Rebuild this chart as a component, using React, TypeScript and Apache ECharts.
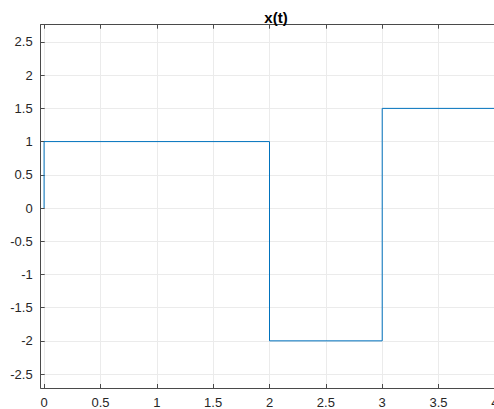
import React, { useEffect, useRef } from "react";
import * as echarts from "echarts";

const tValues = [0, 0, 2, 2, 3, 3, 4];
const xValues = [0, 1, 1, -2, -2, 1.5, 1.5];
const xTicks = [0, 0.5, 1, 1.5, 2, 2.5, 3, 3.5, 4];
const yTicks = [-2.5, -2, -1.5, -1, -0.5, 0, 0.5, 1, 1.5, 2, 2.5];
const titleText = "x(t)";

export default function App() {
  const ref = useRef<HTMLDivElement>(null);
  useEffect(() => {
    const chart = echarts.init(ref.current!, null, { renderer: "svg" });
    const font = "'Liberation Sans', Arial, Helvetica, sans-serif";
    const axisColor = "#4a4a4a";
    const gridColor = "#ebebeb";
    const xmin = -0.03;
    const xmax = 4.03;
    chart.setOption({
      animation: false,
      backgroundColor: "#ffffff",
      title: {
        text: titleText,
        left: 271,
        textAlign: "center",
        top: 5,
        textStyle: { fontFamily: font, fontSize: 15, fontWeight: "bold", color: "#000" },
      },
      grid: { left: 40.7, top: 24.7, bottom: 20, right: 11.7, containLabel: false },
      xAxis: [
        {
          type: "value",
          min: xmin,
          max: xmax,
          position: "bottom",
          axisLine: { show: true, onZero: false, lineStyle: { color: axisColor, width: 1 } },
          axisTick: { show: true, inside: true, length: 4, customValues: xTicks, lineStyle: { color: axisColor } },
          axisLabel: {
            customValues: xTicks,
            formatter: (v: number) => String(v),
            fontFamily: font,
            fontSize: 13,
            color: "#262626",
            margin: 8,
          },
          splitLine: { show: true, lineStyle: { color: gridColor, width: 1 } },
        },
        {
          type: "value",
          min: xmin,
          max: xmax,
          position: "top",
          axisLine: { show: true, onZero: false, lineStyle: { color: axisColor, width: 1 } },
          axisTick: { show: true, inside: true, length: 4, customValues: xTicks, lineStyle: { color: axisColor } },
          axisLabel: { show: false },
          splitLine: { show: false },
        },
      ],
      yAxis: {
        type: "value",
        min: -2.71,
        max: 2.76,
        axisLine: { show: true, onZero: false, lineStyle: { color: axisColor, width: 1 } },
        axisTick: { show: true, inside: true, length: 4, customValues: yTicks, lineStyle: { color: axisColor } },
        axisLabel: {
          customValues: yTicks,
          formatter: (v: number) => String(v),
          fontFamily: font,
          fontSize: 13,
          color: "#262626",
          margin: 8,
        },
        splitLine: { show: true, lineStyle: { color: gridColor, width: 1 } },
      },
      series: [
        {
          type: "line",
          xAxisIndex: 0,
          data: tValues.map((t, i) => [t, xValues[i]]),
          showSymbol: false,
          symbol: "none",
          lineStyle: { color: "#0072BD", width: 1 },
          clip: false,
        },
      ],
    });
    return () => chart.dispose();
  }, []);
  return (
    <div style={{ position: "fixed", left: 0, top: 0, width: 494, height: 409, overflow: "hidden", background: "#fff" }}>
      <div ref={ref} style={{ width: 510, height: 409 }} />
    </div>
  );
}
